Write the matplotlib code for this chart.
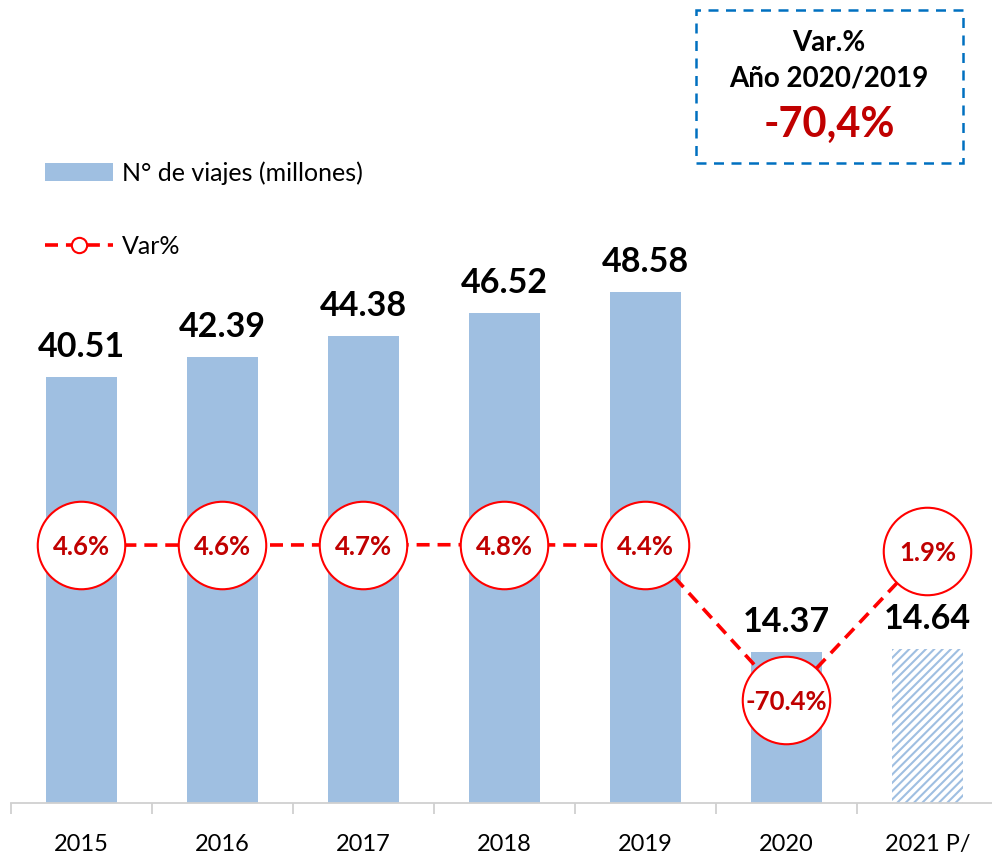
import numpy as np
import matplotlib
matplotlib.use("Agg")
import matplotlib.pyplot as plt
from matplotlib.patches import Patch, Rectangle
from matplotlib.lines import Line2D

plt.rcParams['font.family'] = ['Lato', 'DejaVu Sans']
plt.rcParams['hatch.linewidth'] = 1.5

years = ['2015', '2016', '2017', '2018', '2019', '2020', '2021 P/']
viajes = [40.51, 42.39, 44.38, 46.52, 48.58, 14.37, 14.64]   # millones
var_pct = [4.6, 4.6, 4.7, 4.8, 4.4, -70.4, 1.9]
var_labels = ['4.6%', '4.6%', '4.7%', '4.8%', '4.4%', '-70.4%', '1.9%']
proyectado = [False, False, False, False, False, False, True]

BAR = '#9FBFE1'
RED = '#FF0000'
DARKRED = '#C00000'

W, H = 992, 856
fig = plt.figure(figsize=(W / 100, H / 100), dpi=100)
ax = fig.add_axes([11 / W, 53 / H, 987 / W, 563 / H])

x = np.arange(len(years))
for xi, v, p in zip(x, viajes, proyectado):
    if p:
        ax.bar(xi, v, width=0.5, facecolor='white', edgecolor=BAR,
               hatch='////', linewidth=0)
    else:
        ax.bar(xi, v, width=0.5, color=BAR)
    ax.annotate(f'{v:.2f}', (xi, v), xytext=(0, 14.5), textcoords='offset points',
                ha='center', va='baseline', fontsize=24.5, fontweight='bold')

ax.set_xlim(-0.5, 6.5)
ax.set_ylim(0, 53.5)
ax.set_yticks([])
for s in ['top', 'right', 'left']:
    ax.spines[s].set_visible(False)
ax.spines['bottom'].set_color('#D0D0D0')
ax.spines['bottom'].set_linewidth(1.3)
ax.set_xticks(x)
ax.set_xticklabels(years, fontsize=17)
ax.set_xticks(np.arange(-0.5, 7, 1), minor=True)
ax.tick_params(axis='x', which='major', length=0, pad=22)
ax.tick_params(axis='x', which='minor', length=8, color='#D0D0D0', width=1.3)

# variacion porcentual en eje secundario
ax2 = ax.twinx()
ax2.plot(x, var_pct, color=RED, lw=2.6, ls=(0, (3.6, 2.2)),
         marker='o', markersize=63, markerfacecolor='white',
         markeredgecolor=RED, markeredgewidth=1.5)
for xi, v, lab in zip(x, var_pct, var_labels):
    ax2.text(xi, v, lab, ha='center', va='center_baseline', color=DARKRED,
             fontsize=18.5, fontweight='bold')
ax2.set_ylim(-120.2, 152.2)
ax2.axis('off')

# leyenda
handles = [Patch(facecolor=BAR, edgecolor='none'),
           Line2D([], [], color=RED, lw=2.6, ls=(0, (3.6, 2.2)), marker='o',
                  markersize=11, markerfacecolor='white', markeredgecolor=RED,
                  markeredgewidth=1.5)]
fig.legend(handles, ['N° de viajes (millones)', 'Var%'], loc='upper left',
           bbox_to_anchor=(45 / W, 1 - 161 / H), frameon=False, fontsize=18,
           handlelength=2.7, handleheight=0.7, handletextpad=0.36,
           labelspacing=2.0, borderpad=0, borderaxespad=0)

# recuadro de variacion anual
fig.patches.append(Rectangle((696 / W, 1 - 163 / H), 267 / W, 153 / H,
                             transform=fig.transFigure, fill=False,
                             edgecolor='#0070C0', lw=1.8, ls=(0, (4, 3))))
fig.text(829 / W, 1 - 43 / H, 'Var.%', ha='center', va='center',
         fontsize=20, fontweight='bold')
fig.text(829 / W, 1 - 78 / H, 'Año 2020/2019', ha='center', va='center',
         fontsize=20, fontweight='bold')
fig.text(829 / W, 1 - 125 / H, '-70,4%', ha='center', va='center',
         fontsize=30, fontweight='bold', color=DARKRED)

fig.savefig('out.png', dpi=100)
